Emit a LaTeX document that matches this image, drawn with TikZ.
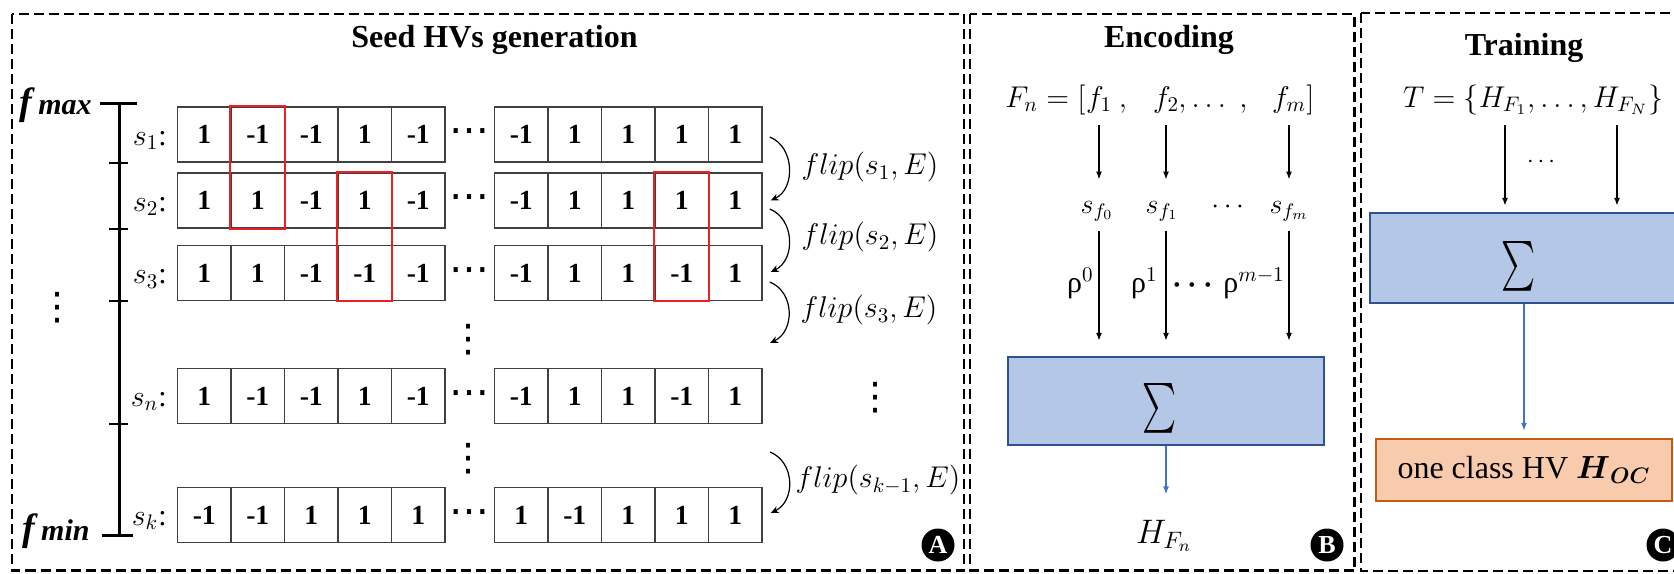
\RequirePackage{fix-cm}
\documentclass[tikz,border=0pt]{standalone}
\usepackage{amsmath}
\usepackage{graphicx}
\usepackage{fontspec}
\setmainfont{Liberation Serif}
\newfontfamily\dejavu{DejaVu Sans}
\usetikzlibrary{arrows.meta}
\definecolor{cellgray}{HTML}{404040}
\definecolor{boxblue}{HTML}{B4C7E7}
\definecolor{boxblueline}{HTML}{2F528F}
\definecolor{arrowblue}{HTML}{4472C4}
\definecolor{boxorange}{HTML}{F8CBAD}
\definecolor{boxorangeline}{HTML}{C55A11}
\definecolor{flipred}{HTML}{F01E1E}
\newcommand{\fsz}[1]{\fontsize{#1}{#1}\selectfont}
\newcommand{\hvrow}[4]{%
  \foreach \v [count=\i] in {#3} {\node[cell] (#1a\i) at ({204.25+53.5*(\i-1)},#2) {\v};}
  \foreach \v [count=\i] in {#4} {\node[cell] (#1b\i) at ({521.25+53.5*(\i-1)},#2) {\v};}
  \node[hdots] (#1dots) at (469,#2+2) {⋯};
}
\tikzset{
  cell/.style={draw=cellgray, line width=0.75pt, minimum width=26.75pt, minimum height=27.5pt, inner sep=0pt, font=\fsz{13.8}\bfseries},
  panel/.style={draw=black, line width=1.1pt, dash pattern=on 5pt off 2.5pt},
  redbox/.style={draw=flipred, line width=1pt},
  flipar/.style={-{Stealth[length=4pt,width=3.5pt]}, line width=0.6pt},
  encar/.style={-{Latex[length=4pt,width=3pt]}, line width=0.7pt},
  bluear/.style={encar, draw=arrowblue, color=arrowblue},
  sumbox/.style={draw=boxblueline, fill=boxblue, line width=1.2pt, inner sep=0pt},
  ocbox/.style={draw=boxorangeline, fill=boxorange, line width=1.2pt, inner sep=0pt, font=\fsz{16}},
  tag/.style={circle, fill=black, text=white, font=\fsz{13}\bfseries, inner sep=0pt, minimum size=16.5pt},
  title/.style={font=\fsz{16}\bfseries, inner sep=0pt},
  mathlbl/.style={font=\fsz{15}, inner sep=0pt},
  small/.style={font=\fsz{14}, inner sep=0pt},
  hdots/.style={font=\dejavu\fsz{20}, inner sep=0pt},
  vdots/.style={font=\dejavu\fsz{19}, inner sep=0pt},
  bar/.style={line width=1.5pt},
  tick/.style={line width=1pt},
}
\begin{document}
\begin{tikzpicture}[x=0.5pt, y=-0.5pt]
\useasboundingbox (0,0) rectangle (1674,573);
\clip (0,0) rectangle (1674,573);
\fill[white] (0,0) rectangle (1674,573);

% panels
\draw[panel] (12,14) rectangle (964,570.5);
\draw[panel] (970,14) rectangle (1354.5,570.5);
\draw[panel] (1361,13) rectangle (1700,571);

% titles
\node[title] (tA) at (494.5,40) {Seed HVs generation};
\node[title] (tB) at (1169,40) {Encoding};
\node[title] (tC) at (1524,48) {Training};

% ---------- Panel A ----------
\hvrow{r1}{134.5}{1,-1,-1,1,-1}{-1,1,1,1,1}
\hvrow{r2}{200.5}{1,1,-1,1,-1}{-1,1,1,1,1}
\hvrow{r3}{273}{1,1,-1,-1,-1}{-1,1,1,-1,1}
\hvrow{rn}{396}{1,-1,-1,1,-1}{-1,1,1,-1,1}
\hvrow{rk}{515}{-1,-1,1,1,1}{1,-1,1,1,1}

\draw[redbox] (r1a2.north west) rectangle (r2a2.south east);
\draw[redbox] (r2a4.north west) rectangle (r3a4.south east);
\draw[redbox] (r2b4.north west) rectangle (r3b4.south east);

% row labels
\node[mathlbl, anchor=base east] (l1) at (167,145) {$s_1$:};
\node[mathlbl, anchor=base east] (l2) at (167,211) {$s_2$:};
\node[mathlbl, anchor=base east] (l3) at (167,283.5) {$s_3$:};
\node[mathlbl, anchor=base east] (ln) at (167,406) {$s_n$:};
\node[mathlbl, anchor=base east] (lk) at (167,525) {$s_k$:};

% scale bar
\coordinate (bartop) at (119,103);
\coordinate (barbot) at (119,535);
\draw[bar] (bartop) -- (barbot);
\draw[bar] (100,103) -- (137,103);
\draw[bar] (102,535) -- (133,535);
\coordinate (tickx) at (109,0);
\foreach \r in {r1,r2,r3,rn} {\draw[tick] (tickx |- \r a1.south) -- ++(19,0);}
\node[anchor=east, inner sep=0pt] (fmax) at (92,105) {{\fsz{19}\bfseries\itshape f}\hspace{3pt}{\fsz{15}\bfseries\itshape max}};
\node[anchor=east, inner sep=0pt] (fmin) at (90,531) {{\fsz{19}\bfseries\itshape f}\hspace{3pt}{\fsz{15}\bfseries\itshape min}};

% vertical dots
\node[vdots] (vd1) at (58,308) {⋮};
\node[vdots] (vd2) at (468,340) {⋮};
\node[vdots] (vd3) at (468,459) {⋮};
\node[vdots] (vd4) at (875,398) {⋮};

% flip arrows
\coordinate (f3end) at (770,343);
\coordinate (f4start) at (770,452);
\draw[flipar] ([shift={(7,2.5)}]r1b5.east) .. controls +(25,10) and +(25,-12) .. ([shift={(8,0)}]r2b5.east);
\draw[flipar] ([shift={(7,8.5)}]r2b5.east) .. controls +(25,10) and +(25,-12) .. ([shift={(8,-1)}]r3b5.east);
\draw[flipar] ([shift={(7,9)}]r3b5.east) .. controls +(25,10) and +(25,-12) .. (f3end);
\draw[flipar] (f4start) .. controls +(25,10) and +(25,-12) .. ([shift={(8,-2)}]rkb5.east);
\node[mathlbl] (fl1) at (870,167) {$flip(s_1,E)$};
\node[mathlbl] (fl2) at (870,237) {$flip(s_2,E)$};
\node[mathlbl] (fl3) at (869,310) {$flip(s_3,E)$};
\node[mathlbl] (fl4) at (878,480) {$flip(s_{k-1},E)$};

\node[tag] (tagA) at (938,545) {A};

% ---------- Panel B ----------
\node[mathlbl, anchor=base east] (Fn) at (1086,107) {$F_n=[$};
\node[mathlbl, anchor=base] (f1) at (1099,107) {$f_1$};
\node[mathlbl, anchor=base] (c1) at (1123,107) {$,$};
\node[mathlbl, anchor=base] (f2) at (1166,107) {$f_2$};
\node[mathlbl, anchor=base] (cd) at (1213,107) {$,\ldots\;,$};
\node[mathlbl, anchor=base] (fm) at (1289,107) {$f_m$};
\node[mathlbl, anchor=base west] (rb) at (1306,107) {$]$};

\node[small, anchor=base] (sf0) at (1097,213) {$s_{f_0}$};
\node[small, anchor=base] (sf1) at (1162,213) {$s_{f_1}$};
\node[small, anchor=base] (sdots) at (1230,213) {$\cdots$};
\node[small, anchor=base] (sfm) at (1289,213) {$s_{f_m}$};

\node[sumbox, minimum width=158pt, minimum height=44pt] (sigB) at (1166,401) {};
\node[inner sep=0pt] (sigBs) at (1160,408) {\scalebox{0.65}[1]{\fsz{28.5}$\sum$}};

\draw[encar, shorten <=6pt, shorten >=10.5pt] (f1.south) -- (f1.south |- sf0.north);
\draw[encar, shorten <=6pt, shorten >=10.5pt] (f2.south) -- (f2.south |- sf1.north);
\draw[encar, shorten <=6pt, shorten >=10.5pt] (fm.south) -- (fm.south |- sfm.north);

\draw[encar, shorten <=5pt, shorten >=7.5pt] (f1.south |- sf0.south) -- (f1.south |- sigB.north);
\draw[encar, shorten <=5pt, shorten >=7.5pt] (f2.south |- sf1.south) -- (f2.south |- sigB.north);
\draw[encar, shorten <=5pt, shorten >=7.5pt] (fm.south |- sfm.south) -- (fm.south |- sigB.north);

\node[anchor=east, font=\fsz{15}, inner sep=0pt] (rho0) at (1094,283) {ρ$^0$};
\node[anchor=east, font=\fsz{15}, inner sep=0pt] (rho1) at (1158,283) {ρ$^1$};
\node[anchor=east, font=\fsz{15}, inner sep=0pt] (rhom) at (1285,283) {{\boldmath$\cdots$}\,ρ$^{m-1}$};

\node[font=\fsz{17}, inner sep=0pt, anchor=base] (HFn) at (1164,543) {$H_{F_n}$};
\draw[bluear, shorten >=12.5pt] (sigB.south) -- (sigB.south |- HFn.north);

\node[tag] (tagB) at (1327,545) {B};

% ---------- Panel C ----------
\node[mathlbl, anchor=base] (Tset) at (1533,107) {$T=\{H_{F_1},\ldots,H_{F_N}\}$};
\node[sumbox, minimum width=155pt, minimum height=45pt] (sigC) at (1525,258) {};
\node[inner sep=0pt] (sigCs) at (1519,266) {\scalebox{0.65}[1]{\fsz{28.5}$\sum$}};
\coordinate (hF1) at (1505,125);
\coordinate (hFN) at (1617,125);
\draw[encar, shorten >=3pt] (hF1) -- (hF1 |- sigC.north);
\draw[encar, shorten >=3pt] (hFN) -- (hFN |- sigC.north);
\node[font=\fsz{12}, inner sep=0pt] (cdC) at (1543,162) {$\cdots$};

\node[ocbox, minimum width=148pt, minimum height=31pt] (oc) at (1524,470) {one class HV $\boldsymbol{H}_{\boldsymbol{OC}}$};
\draw[bluear, shorten >=3.5pt] (oc.north |- sigC.south) -- (oc.north);

\node[tag] (tagC) at (1663,545) {C};
\end{tikzpicture}
\end{document}
